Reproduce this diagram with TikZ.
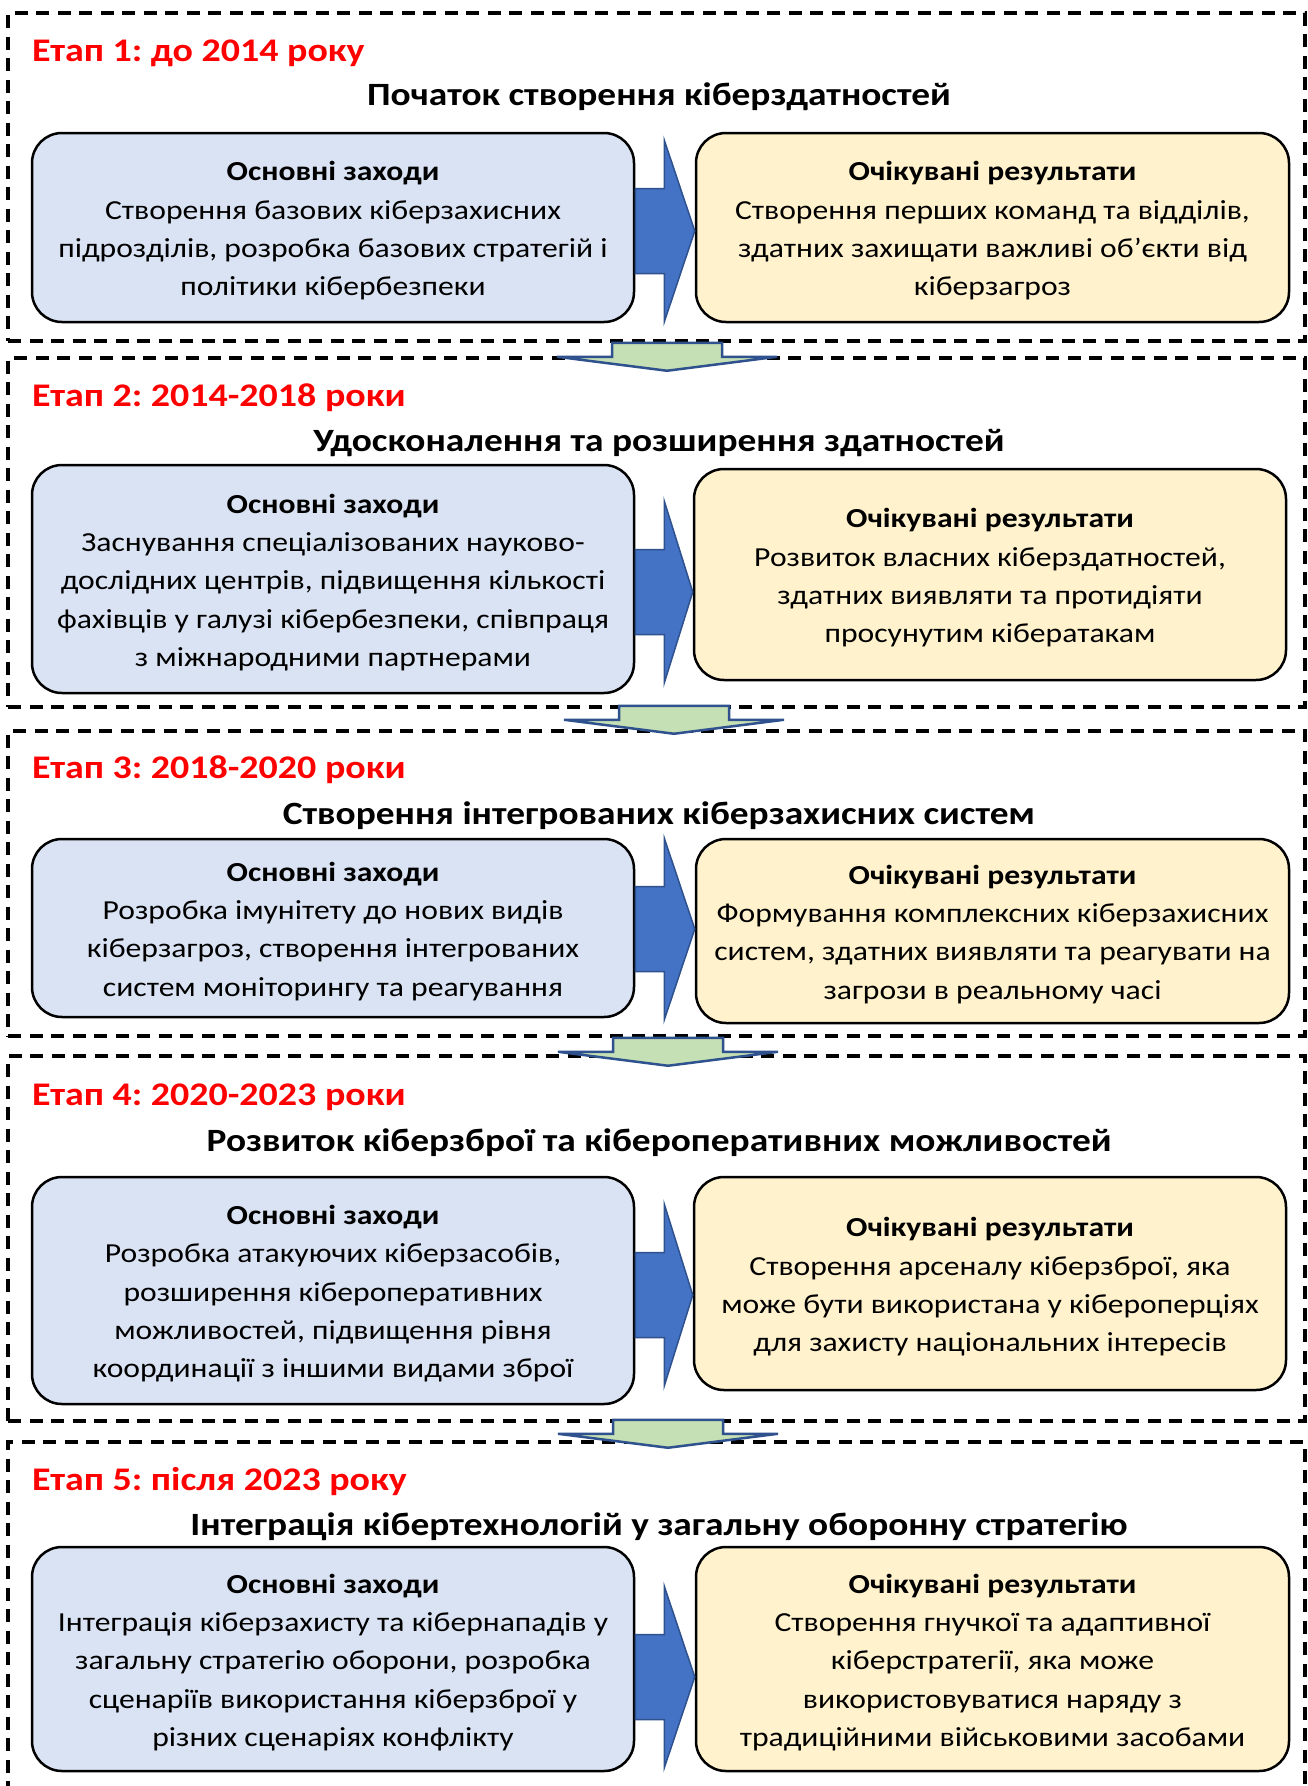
\documentclass[tikz,border=0pt]{standalone}
\usepackage{fontspec}
\setmainfont{Carlito}[FakeStretch=1.15]
\frenchspacing
\usetikzlibrary{calc}
\definecolor{boxblue}{HTML}{DAE3F3}
\definecolor{boxyellow}{HTML}{FFF2CC}
\definecolor{arrblue}{HTML}{4472C4}
\definecolor{arredge}{HTML}{2F528F}
\definecolor{arrgreen}{HTML}{C5E0B4}
\definecolor{titlered}{HTML}{FF0000}
\newcommand\boxhead[1]{\rule{0pt}{26pt}\textbf{#1}}
\newcommand\stagearrow[2]{%
  \draw[bluearr] ($(#1)+(0,-42.5)$) -- ($(#1)+(29,-42.5)$) -- ($(#1)+(29,-91)$)
    -- (#2) -- ($(#1)+(29,91)$) -- ($(#1)+(29,42.5)$) -- ($(#1)+(0,42.5)$) -- cycle;}
\newcommand\nextarrow[1]{%
  \draw[greenarr] ($(#1)+(-55,0)$) -- ($(#1)+(55,0)$) -- ($(#1)+(55,14)$) -- ($(#1)+(110,14)$)
    -- ($(#1)+(0,28)$) -- ($(#1)+(-110,14)$) -- ($(#1)+(-55,14)$) -- cycle;}
\begin{document}
\begin{tikzpicture}[x=1pt,y=-1pt,
  stageframe/.style={draw=black, line width=3.5pt, dash pattern=on 13pt off 8.5pt,
    inner sep=0pt, minimum width=1297pt},
  basebox/.style={draw=black, line width=2.5pt, rounded corners=30pt, align=center,
    inner sep=0pt, font=\fontsize{27.5}{38.3}\selectfont},
  measbox/.style={basebox, fill=boxblue, minimum width=602pt},
  resbox/.style={basebox, fill=boxyellow},
  stagetitle/.style={anchor=base west, inner sep=0pt, text=titlered,
    font=\fontsize{33}{38}\selectfont\bfseries},
  stagehead/.style={anchor=base, inner sep=0pt,
    font=\fontsize{32.5}{38}\selectfont\bfseries},
  bluearr/.style={fill=arrblue, draw=arredge, line width=1.5pt, line join=miter},
  greenarr/.style={fill=arrgreen, draw=arredge, line width=2.5pt, line join=miter}
]
\useasboundingbox (0,0) rectangle (1308,1786);
\clip (0,0) rectangle (1308,1786);
\fill[white] (0,0) rectangle (1308,1786);

% frames
\node[stageframe, minimum height=328pt] (f1) at (656.5,177) {};
\node[stageframe, minimum height=349pt] (f2) at (656.5,532.5) {};
\node[stageframe, minimum height=305pt] (f3) at (656.5,883.5) {};
\node[stageframe, minimum height=365pt] (f4) at (656.5,1238.5) {};
\node[stageframe, minimum height=378pt] (f5) at (656.5,1631) {};

% green arrows between stages
\coordinate (g1) at ($(f1.south)+(10.5,0)$);
\coordinate (g2) at ($(f2.south)+(17.5,-3)$);
\coordinate (g3) at ($(f3.south)+(11.5,0)$);
\coordinate (g4) at ($(f4.south)+(11.5,-3)$);
\nextarrow{g1}
\nextarrow{g2}
\nextarrow{g3}
\nextarrow{g4}

% Stage 1
\node[stagetitle] (t1) at (32,61) {Етап 1: до 2014 року};
\node[stagehead] (h1) at (659,105) {Початок створення кіберздатностей};
\node[measbox, minimum height=189pt] (b1) at (333,227.5)
  {\boxhead{Основні заходи}\\Створення базових кіберзахисних\\підрозділів, розробка базових стратегій і\\політики кібербезпеки};
\node[resbox, minimum width=593pt, minimum height=189pt] (r1) at (992.5,227.5)
  {\boxhead{Очікувані результати}\\Створення перших команд та відділів,\\здатних захищати важливі об’єкти від\\кіберзагроз};

% Stage 2
\node[stagetitle] (t2) at (32,406) {Етап 2: 2014-2018 роки};
\node[stagehead] (h2) at (659,451) {Удосконалення та розширення здатностей};
\node[measbox, minimum height=228pt] (b2) at (333,579)
  {\boxhead{Основні заходи}\\Заснування спеціалізованих науково-\\дослідних центрів, підвищення кількості\\фахівців у галузі кібербезпеки, співпраця\\з міжнародними партнерами};
\node[resbox, minimum width=592pt, minimum height=211pt] (r2) at (990,574.5)
  {\boxhead{Очікувані результати}\\Розвиток власних кіберздатностей,\\здатних виявляти та протидіяти\\просунутим кібератакам};

% Stage 3
\node[stagetitle] (t3) at (32,778) {Етап 3: 2018-2020 роки};
\node[stagehead] (h3) at (659,824) {Створення інтегрованих кіберзахисних систем};
\node[measbox, minimum height=178pt] (b3) at (333,928)
  {\boxhead{Основні заходи}\\Розробка імунітету до нових видів\\кіберзагроз, створення інтегрованих\\систем моніторингу та реагування};
\node[resbox, minimum width=593pt, minimum height=184pt] (r3) at (992.5,931)
  {\boxhead{Очікувані результати}\\Формування комплексних кіберзахисних\\систем, здатних виявляти та реагувати на\\загрози в реальному часі};

% Stage 4
\node[stagetitle] (t4) at (32,1105) {Етап 4: 2020-2023 роки};
\node[stagehead] (h4) at (659,1151) {Розвиток кіберзброї та кібероперативних можливостей};
\node[measbox, minimum height=227pt] (b4) at (333,1290.5)
  {\boxhead{Основні заходи}\\Розробка атакуючих кіберзасобів,\\розширення кібероперативних\\можливостей, підвищення рівня\\координації з іншими видами зброї};
\node[resbox, minimum width=592pt, minimum height=213pt] (r4) at (990,1283.5)
  {\boxhead{Очікувані результати}\\Створення арсеналу кіберзброї, яка\\може бути використана у кібероперціях\\для захисту національних інтересів};

% Stage 5
\node[stagetitle] (t5) at (32,1490) {Етап 5: після 2023 року};
\node[stagehead] (h5) at (659,1535) {Інтеграція кібертехнологій у загальну оборонну стратегію};
\node[measbox, minimum height=224pt] (b5) at (333,1659)
  {\boxhead{Основні заходи}\\Інтеграція кіберзахисту та кібернападів у\\загальну стратегію оборони, розробка\\сценаріїв використання кіберзброї у\\різних сценаріях конфлікту};
\node[resbox, minimum width=593pt, minimum height=224pt] (r5) at (992.5,1659)
  {\boxhead{Очікувані результати}\\Створення гнучкої та адаптивної\\кіберстратегії, яка може\\використовуватися наряду з\\традиційними військовими засобами};

% blue arrows from measures to results
\coordinate (a1) at ($(b1.east)+(0,3.5)$);  \coordinate (e1) at (r1.west |- a1);
\coordinate (a2) at ($(b2.east)+(0,13)$);   \coordinate (e2) at (r2.west |- a2);
\coordinate (a3) at ($(b3.east)+(0,1)$);    \coordinate (e3) at (r3.west |- a3);
\coordinate (a4) at ($(b4.east)+(0,4.5)$);  \coordinate (e4) at (r4.west |- a4);
\coordinate (a5) at ($(b5.east)+(0,18)$);   \coordinate (e5) at (r5.west |- a5);
\stagearrow{a1}{e1}
\stagearrow{a2}{e2}
\stagearrow{a3}{e3}
\stagearrow{a4}{e4}
\stagearrow{a5}{e5}
\end{tikzpicture}
\end{document}
